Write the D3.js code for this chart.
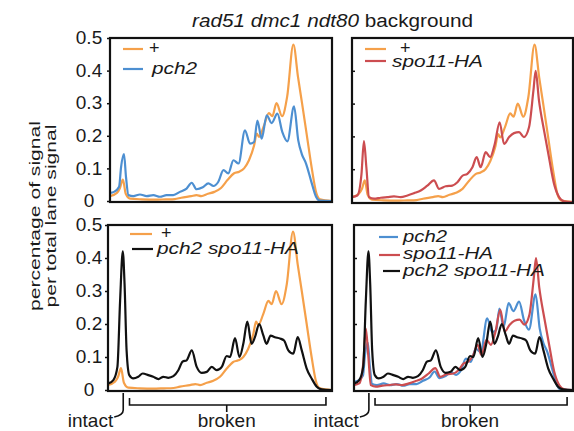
<!DOCTYPE html>
<html><head><meta charset="utf-8">
<script src="https://cdn.jsdelivr.net/npm/d3@7"></script>
<style>
body{margin:0;background:#fff;}
text{font-family:"Liberation Sans",Arial,sans-serif;fill:#1a1a1a;}
</style>
</head><body><svg id="c" width="574" height="431"></svg>
<script>
// ---- data (lane position 0-100, fraction of lane signal) ----
const plusPos = [0,3.1,4.5,5.8,7.1,9.1,14.3,20,25,29.2,32.1,36.6,39,41.1,44.1,47,50,53,55.9,58.2,60.4,62.6,64.9,66.1,67.1,69.3,71.6,73.1,75,77.5,79.8,82.6,84.7,86.5,88.7,90.9,92.9,94.6,100];
const plusVal = [0.015,0.025,0.04,0.066,0.022,0.007,0.005,0.004,0.005,0.006,0.01,0.015,0.018,0.015,0.022,0.028,0.04,0.065,0.085,0.09,0.1,0.125,0.17,0.207,0.197,0.23,0.27,0.26,0.3,0.26,0.32,0.48,0.38,0.30,0.2,0.1,0.025,0.005,0];
const pch2Pos = [0,1.8,4.1,5,6.3,7.2,8.3,10.5,13.5,16.5,19.5,22.5,25.5,28.5,31.5,34.5,36.8,39,41.8,44.3,46.6,48.8,51.1,53.3,55.6,57.9,60.8,63.1,64.9,66.4,68.3,70.6,72.8,75.4,77.6,79.9,82.9,84.8,86.4,88.3,90.9,92.8,94.6,100];
const pch2Val = [0.025,0.028,0.044,0.105,0.144,0.074,0.018,0.015,0.02,0.015,0.018,0.013,0.018,0.018,0.028,0.038,0.056,0.036,0.042,0.054,0.046,0.059,0.095,0.085,0.125,0.115,0.217,0.176,0.181,0.247,0.191,0.263,0.239,0.268,0.212,0.183,0.29,0.186,0.144,0.115,0.054,0.013,0.001,0];
const spoPos = [0,2.4,4.3,5.4,6.5,7.7,10,13,16,19,22,25.1,28.1,31.1,34.1,37.1,39.4,42.4,45.4,47.7,50,52.2,54.5,56.4,58.2,60.5,62.5,64.6,66.8,68.8,71.1,73.3,75.6,77.8,80.1,82.1,83.1,84.6,86.9,89.1,91.4,93.7,96,100];
const spoVal = [0.015,0.02,0.086,0.186,0.106,0.015,0.01,0.013,0.015,0.017,0.015,0.02,0.027,0.035,0.05,0.066,0.04,0.048,0.05,0.06,0.08,0.086,0.106,0.137,0.106,0.152,0.137,0.177,0.243,0.177,0.198,0.21,0.213,0.198,0.228,0.34,0.4,0.31,0.218,0.137,0.056,0.015,0.002,0];
const dblPos = [0.2,2.4,4.2,5.4,6.6,7.4,8.3,9.5,11.3,13.5,15.5,18,20.2,22.5,24.7,26.9,29.2,31.4,33.3,35.1,37.4,39.6,41.8,44.1,46.3,48.5,50.8,53,54.5,56.7,58.7,60.4,62.2,64.1,65.6,67.5,69.3,70.8,72.6,74.5,76.8,78.6,80.5,82.7,84.7,86.5,88.7,90.9,93.2,95.4,100];
const dblVal = [0.02,0.03,0.07,0.27,0.42,0.32,0.12,0.045,0.035,0.04,0.05,0.045,0.04,0.033,0.04,0.037,0.042,0.06,0.086,0.09,0.12,0.07,0.052,0.055,0.07,0.06,0.07,0.103,0.1,0.157,0.1,0.14,0.207,0.14,0.16,0.2,0.166,0.14,0.165,0.16,0.156,0.15,0.12,0.11,0.16,0.12,0.065,0.035,0.01,0.002,0];

const seriesNames = {plus:"+", pch2:"pch2", spo:"spo11-HA", dbl:"pch2 spo11-HA"};
const yTicks = [0,0.1,0.2,0.3,0.4,0.5];
const titleItalic = "rad51 dmc1 ndt80";
const titleRest = " background";
const yLabelLines = ["percentage of signal","per total lane signal"];
const annotLabels = ["intact","broken"];

// ---- styling ----
const colors = {plus:"#f5a04a", pch2:"#4d8fd1", spo:"#cc4d50", dbl:"#111111"};
const series = {
  plus: d3.zip(plusPos, plusVal),
  pch2: d3.zip(pch2Pos, pch2Val),
  spo: d3.zip(spoPos, spoVal),
  dbl: d3.zip(dblPos, dblVal)
};

const svg = d3.select("#c");

const panels = [
  {x0:110,x1:332,y0:38,y1:201, keys:["plus","pch2"], labels:true,
   legend:[{k:"plus",lx:[123,143],ly:49,tx:149,ty:54,len:null},{k:"pch2",lx:[123,143],ly:69,tx:152,ty:74,len:45}]},
  {x0:352,x1:573,y0:38,y1:202, keys:["plus","spo"], labels:false,
   legend:[{k:"plus",lx:[365,386],ly:49,tx:400,ty:54,len:null},{k:"spo",lx:[365,386],ly:61,tx:392,ty:67,len:91}]},
  {x0:108,x1:332,y0:225,y1:390, keys:["plus","dbl"], labels:true, bracket:true,
   legend:[{k:"plus",lx:[130,152],ly:234,tx:161,ty:239,len:null},{k:"dbl",lx:[132,153],ly:249,tx:157,ty:254,len:142}]},
  {x0:354,x1:573,y0:225,y1:390, keys:["pch2","spo","dbl"], labels:false, bracket:true,
   legend:[{k:"pch2",lx:[379,398],ly:237,tx:403,ty:242,len:44},{k:"spo",lx:[379,400],ly:255,tx:403,ty:259,len:90},{k:"dbl",lx:[383,400],ly:271,tx:403,ty:276,len:142}]}
];

panels.forEach((p,i) => {
  const x = d3.scaleLinear().domain([0,100]).range([p.x0,p.x1]);
  const y = d3.scaleLinear().domain([0,0.5]).range([p.y1,p.y0]);
  const g = svg.append("g");
  const cid = "clip"+i;
  svg.append("clipPath").attr("id",cid).append("rect")
    .attr("x",p.x0).attr("y",p.y0-10).attr("width",p.x1-p.x0).attr("height",p.y1-p.y0+10);
  const line = d3.line().x(d=>x(d[0])).y(d=>y(d[1])).curve(d3.curveMonotoneX);
  p.keys.forEach(k => {
    g.append("path").datum(series[k]).attr("d",line)
      .attr("fill","none").attr("stroke",colors[k]).attr("stroke-width",2.2)
      .attr("stroke-linejoin","round").attr("clip-path",`url(#${cid})`);
  });
  // frame
  g.append("rect").attr("x",p.x0).attr("y",p.y0).attr("width",p.x1-p.x0).attr("height",p.y1-p.y0+1)
    .attr("fill","none").attr("stroke","#111").attr("stroke-width",2.2);
  // axis
  const ax = g.append("g").attr("transform",`translate(${p.x0},0)`);
  if (p.labels) {
    ax.call(d3.axisLeft(y).tickValues(yTicks).tickSize(3).tickFormat(d=>d===0?"0":d3.format(".1f")(d)));
    ax.selectAll("text").attr("text-anchor","middle").attr("x",89-p.x0).attr("dy","0.3em")
      .style("font-size","19px").style("font-family",'"Liberation Sans",Arial,sans-serif').attr("fill","#1a1a1a");
  } else {
    ax.call(d3.axisRight(y).tickValues(yTicks.slice(1,5)).tickSize(3).tickFormat(""));
  }
  ax.select(".domain").remove();
  ax.selectAll(".tick line").attr("stroke","#111").attr("stroke-width",1.5);
  // legend
  p.legend.forEach(L => {
    g.append("line").attr("x1",L.lx[0]).attr("x2",L.lx[1]).attr("y1",L.ly).attr("y2",L.ly)
      .attr("stroke",colors[L.k]).attr("stroke-width",2.2);
    const t = g.append("text").attr("x",L.tx).attr("y",L.ty).text(seriesNames[L.k])
      .style("font-size", L.k==="plus" ? "18px" : "16px")
      .style("font-style", L.k==="plus" ? "normal" : "italic");
    if (L.len) t.attr("textLength",L.len).attr("lengthAdjust","spacingAndGlyphs");
  });
  // brackets
  if (p.bracket) {
    const xi = x(6.8), xb0 = x(9.6), xb1 = x(97.3), xm = x(53);
    const b = g.append("g").attr("fill","none").attr("stroke","#111").attr("stroke-width",1.6);
    b.append("path").attr("d",`M${xi},${p.y1+3} L${xi},${p.y1+20} Q${xi},${p.y1+25} ${xi-9},${p.y1+27}`);
    b.append("path").attr("d",`M${xb0},${p.y1+8} L${xb0},${p.y1+15} L${xb1},${p.y1+15} L${xb1},${p.y1+7} M${xm},${p.y1+15} L${xm},${p.y1+22}`);
    g.append("text").attr("x",xi-10).attr("y",427).attr("text-anchor","end").style("font-size","19px").text(annotLabels[0]);
    g.append("text").attr("x",xm).attr("y",427).attr("text-anchor","middle").style("font-size","19px").text(annotLabels[1]);
  }
});

// title
const tt = svg.append("text").attr("x",192).attr("y",27).style("font-size","18px")
  .attr("textLength",281).attr("lengthAdjust","spacingAndGlyphs");
tt.append("tspan").style("font-style","italic").text(titleItalic);
tt.append("tspan").text(titleRest);

// y label
[39.5,56].forEach((bx,i) => {
  svg.append("text").attr("transform",`translate(${bx},216) rotate(-90)`)
    .attr("text-anchor","middle").style("font-size","15px")
    .attr("textLength", i===0 ? 190 : 183).attr("lengthAdjust","spacingAndGlyphs")
    .text(yLabelLines[i]);
});
</script></body></html>
